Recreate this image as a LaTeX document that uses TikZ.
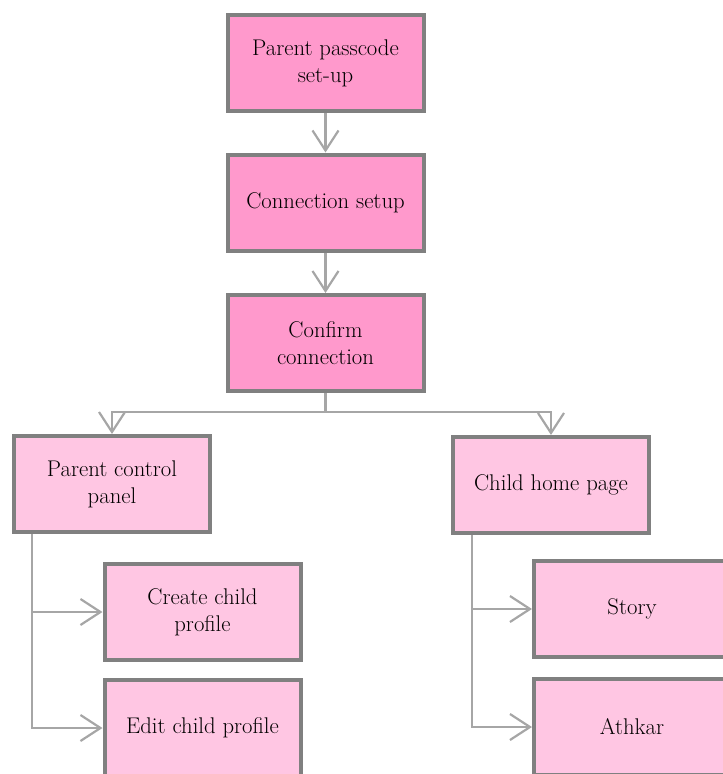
\documentclass[tikz,border=0pt]{standalone}
\usetikzlibrary{arrows.meta}
\definecolor{darkpink}{RGB}{255,153,204}
\definecolor{lightpink}{RGB}{255,198,227}
\definecolor{boxborder}{RGB}{128,128,128}
\definecolor{linkgray}{RGB}{166,166,166}
\begin{document}
\begin{tikzpicture}[x=1pt,y=-1pt,
  box/.style={draw=boxborder, line width=4pt, minimum width=196pt, minimum height=96pt,
    align=center, inner sep=2pt, font=\fontsize{22.7}{27}\selectfont},
  topbox/.style={box, fill=darkpink},
  subbox/.style={box, fill=lightpink},
  link/.style={draw=linkgray, line width=2.2pt},
  arr/.style={link, -{Straight Barb[length=20pt,width=26pt,line width=2.2pt]}}]
\useasboundingbox (0,0) rectangle (723,774);
\clip (0,0) rectangle (723,774);
\node[topbox] (b1) at (325.5,63) {Parent passcode\\set-up};
\node[topbox] (b2) at (325.5,202.5) {Connection setup};
\node[topbox] (b3) at (325.5,343) {Confirm\\connection};
\node[subbox] (pcp) at (112,484) {Parent control\\panel};
\node[subbox] (chp) at (551,485) {Child home page};
\node[subbox] (create) at (202.5,612) {Create child\\profile};
\node[subbox] (edit) at (202.5,728) {Edit child profile};
\node[subbox] (story) at (632,609) {Story};
\node[subbox] (athkar) at (632,727) {Athkar};
\draw[arr] (b1.south) -- (b2.north);
\draw[arr] (b2.south) -- (b3.north);
\draw[link] (b3.south) -- ++(0,19) coordinate (j);
\draw[arr] (j) -| (pcp.north);
\draw[arr] (j) -| (chp.north);
\draw[arr] ([xshift=-80pt]pcp.south) |- (create.west);
\draw[arr] ([xshift=-80pt]pcp.south) |- (edit.west);
\draw[arr] ([xshift=-79pt]chp.south) |- (story.west);
\draw[arr] ([xshift=-79pt]chp.south) |- (athkar.west);
\end{tikzpicture}
\end{document}
